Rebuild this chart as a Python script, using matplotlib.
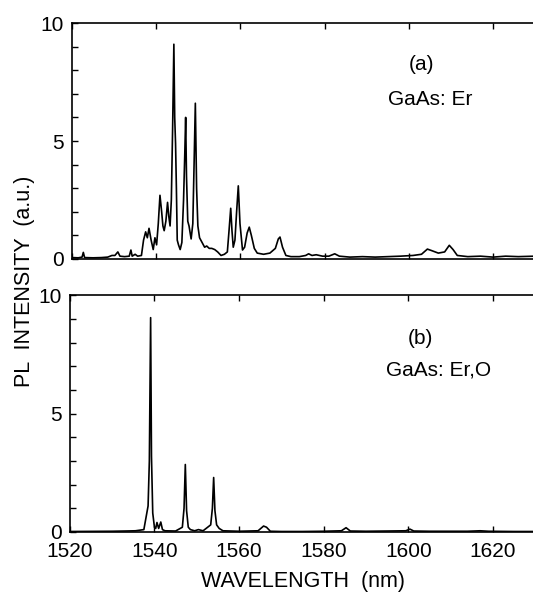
import numpy as np
import matplotlib
matplotlib.use("Agg")
import matplotlib.pyplot as plt
from matplotlib.ticker import MultipleLocator

plt.rcParams['font.family'] = ['Liberation Sans', 'DejaVu Sans']

# (a) GaAs:Er spectrum
top_wl = [1520, 1521.5, 1522.4, 1522.7, 1523.0, 1525, 1527, 1528.5, 1529.5, 1530.2,
          1530.9, 1531.4, 1532.5, 1533.6, 1534.0, 1534.3, 1535.0, 1535.6, 1536.5, 1537.0,
          1537.5, 1537.9, 1538.3, 1538.8, 1539.3, 1539.7, 1540.1, 1540.5, 1540.9, 1541.3,
          1541.6, 1541.9, 1542.3, 1542.7, 1543.0, 1543.3, 1543.6, 1543.9, 1544.2, 1544.4,
          1544.6, 1544.8, 1545.0, 1545.3, 1545.7, 1546.1, 1546.5, 1546.8, 1547.0, 1547.2,
          1547.5, 1547.8, 1548.3, 1548.7, 1549.0, 1549.3, 1549.6, 1549.9, 1550.3, 1550.9,
          1551.5, 1552.0, 1552.6, 1553.2, 1553.9, 1554.6, 1555.4, 1556.2, 1556.9, 1557.3,
          1557.7, 1558.0, 1558.3, 1558.7, 1559.1, 1559.5, 1559.9, 1560.5, 1561.0, 1561.6,
          1562.1, 1562.6, 1563.3, 1564.0, 1565.5, 1567.0, 1568.3, 1569.0, 1569.4, 1570.0,
          1570.8, 1572, 1574, 1575.5, 1576.2, 1577, 1578, 1579.5, 1581, 1582.4,
          1583.5, 1586, 1589, 1592, 1595, 1598, 1601, 1603, 1604.4, 1605.5,
          1607, 1608.5, 1609.6, 1610.5, 1611.5, 1614, 1617, 1620, 1623, 1626,
          1630]
top_pl = [0.06, 0.05, 0.08, 0.28, 0.06, 0.05, 0.06, 0.08, 0.15, 0.15,
          0.30, 0.12, 0.10, 0.12, 0.38, 0.12, 0.20, 0.12, 0.15, 0.80,
          1.15, 0.90, 1.30, 0.80, 0.40, 0.90, 0.60, 1.50, 2.70, 2.00,
          1.40, 1.20, 1.60, 2.40, 1.80, 1.40, 2.50, 5.50, 9.10, 6.00,
          4.90, 3.00, 0.80, 0.60, 0.40, 0.70, 2.50, 4.50, 6.00, 3.50,
          1.60, 1.40, 0.85, 1.50, 4.00, 6.60, 3.00, 1.40, 0.90, 0.70,
          0.50, 0.55, 0.45, 0.45, 0.40, 0.30, 0.15, 0.20, 0.30, 1.20,
          2.15, 1.20, 0.50, 0.80, 2.00, 3.10, 1.50, 0.38, 0.50, 1.10,
          1.35, 1.00, 0.45, 0.25, 0.20, 0.25, 0.45, 0.85, 0.93, 0.50,
          0.15, 0.10, 0.10, 0.15, 0.22, 0.15, 0.18, 0.12, 0.12, 0.22,
          0.12, 0.08, 0.10, 0.08, 0.10, 0.12, 0.15, 0.20, 0.42, 0.35,
          0.25, 0.30, 0.58, 0.40, 0.15, 0.10, 0.12, 0.08, 0.12, 0.10,
          0.12]

# (b) GaAs:Er,O spectrum
bot_wl = [1520, 1530, 1533, 1535.5, 1536.7, 1537.5, 1538.2, 1538.5, 1538.8, 1539.1,
          1539.3, 1539.6, 1540.0, 1540.3, 1540.6, 1541.0, 1541.5, 1541.9, 1542.5, 1545,
          1546.6, 1547.0, 1547.3, 1547.6, 1548.0, 1548.5, 1549.5, 1550.4, 1551.5, 1553.3,
          1553.7, 1554.0, 1554.3, 1554.7, 1555.3, 1556.2, 1560, 1564.5, 1565.8, 1566.5,
          1567.4, 1570, 1575, 1580, 1584.2, 1585.3, 1586.3, 1590, 1595, 1599.4,
          1600.4, 1601.3, 1605, 1610, 1614, 1617, 1619, 1625, 1630]
bot_pl = [0.02, 0.03, 0.04, 0.05, 0.08, 0.10, 0.80, 1.10, 3.00, 9.05,
          3.20, 0.80, 0.20, 0.15, 0.40, 0.15, 0.42, 0.10, 0.05, 0.04,
          0.20, 1.00, 2.85, 0.90, 0.20, 0.10, 0.05, 0.10, 0.05, 0.30,
          1.00, 2.30, 0.90, 0.30, 0.15, 0.05, 0.03, 0.05, 0.25, 0.20,
          0.03, 0.02, 0.02, 0.03, 0.05, 0.18, 0.04, 0.03, 0.04, 0.05,
          0.12, 0.04, 0.03, 0.03, 0.03, 0.05, 0.03, 0.02, 0.02]

xticks = [1520, 1540, 1560, 1580, 1600, 1620]
yticks = [0, 5, 10]

W, H = 533, 592
fig = plt.figure(figsize=(W / 100, H / 100), dpi=100)
ax_a = fig.add_axes([0.135, 0.5625, 0.877, 0.3986])
ax_b = fig.add_axes([0.131, 0.1014, 0.881, 0.400])

for ax, wl, pl in [(ax_a, top_wl, top_pl), (ax_b, bot_wl, bot_pl)]:
    ax.plot(wl, pl, color='black', lw=1.2)
    ax.set_xlim(1520, 1631)
    ax.set_ylim(0, 10)
    ax.set_xticks(xticks)
    ax.set_yticks(yticks)
    ax.yaxis.set_minor_locator(MultipleLocator(1))
    ax.tick_params(which='both', direction='in', top=True, right=True,
                   length=4, width=1, labelsize=15, pad=6)
    ax.tick_params(axis='x', pad=7)
    for s in ax.spines.values():
        s.set_linewidth(1.2)

ax_a.tick_params(labelbottom=False)

# panel labels, placed in figure pixels
def ftext(x, y, s, **kw):
    fig.text(x / W, 1 - y / H, s, ha='center', va='center', **kw)

ftext(422, 65, '(a)', fontsize=15)
ftext(430, 100, 'GaAs: Er', fontsize=15)
ftext(420, 338, '(b)', fontsize=15)
ftext(439, 370, 'GaAs: Er,O', fontsize=15)

ftext(303, 582, 'WAVELENGTH  (nm)', fontsize=15.5)
ftext(25, 281, 'PL  INTENSITY  (a.u.)', fontsize=15.5, rotation=90)

fig.savefig('out.png', dpi=100)
